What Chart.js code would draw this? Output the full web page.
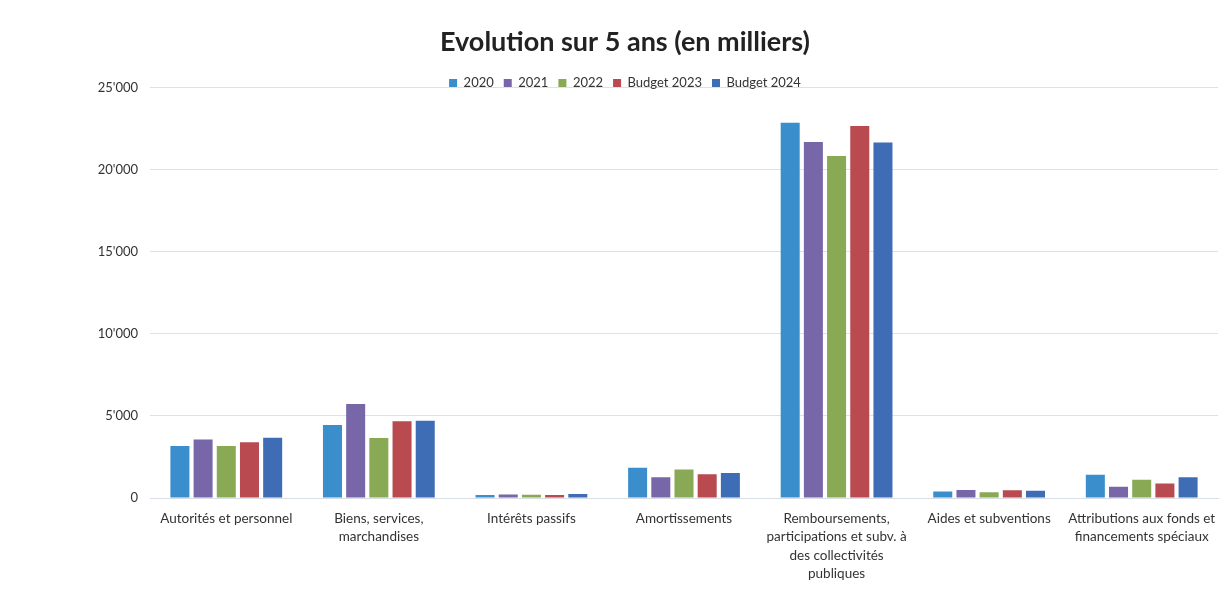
<!DOCTYPE html>
<html>
<head>
<meta charset="utf-8">
<script src="https://cdn.jsdelivr.net/npm/chart.js@4.4.1/dist/chart.umd.min.js"></script>
<style>
  html, body { margin: 0; padding: 0; background: #fff; }
  #wrap { width: 1224px; height: 604px; }
</style>
</head>
<body>
<div id="wrap"><canvas id="chart"></canvas></div>
<script>
// Catégories (axe X)
const categories = [
  'Autorités et personnel',
  ['Biens, services,', 'marchandises'],
  'Intérêts passifs',
  'Amortissements',
  ['Remboursements,', 'participations et subv. à', 'des collectivités', 'publiques'],
  'Aides et subventions',
  ['Attributions aux fonds et', 'financements spéciaux']
];

// Valeurs en milliers
const values2020 = [3160, 4440, 180, 1850, 22850, 400, 1420];
const values2021 = [3560, 5720, 220, 1270, 21670, 490, 690];
const values2022 = [3160, 3650, 200, 1730, 20820, 350, 1110];
const valuesBudget2023 = [3390, 4680, 190, 1450, 22650, 470, 890];
const valuesBudget2024 = [3670, 4700, 240, 1520, 21640, 450, 1260];

const seriesNames = ['2020', '2021', '2022', 'Budget 2023', 'Budget 2024'];
const yTicks = [0, 5000, 10000, 15000, 20000, 25000];

const colors = ['#3a8ecb', '#7767a9', '#89a955', '#b84a50', '#3e6db6'];
const allValues = [values2020, values2021, values2022, valuesBudget2023, valuesBudget2024];

function fmt(v) {
  return String(v).replace(/\B(?=(\d{3})+(?!\d))/g, "'");
}

// la légende empiète sur le haut du graphique, comme dans l'original
const legendShift = {
  id: 'legendShift',
  afterLayout(chart) {
    const dy = 12;
    chart.legend.top += dy;
    chart.legend.bottom += dy;
  }
};

const ctx = document.getElementById('chart').getContext('2d');
const chart = new Chart(ctx, {
  type: 'bar',
  data: {
    labels: categories,
    datasets: seriesNames.map((name, i) => ({
      label: name,
      data: allValues[i],
      backgroundColor: colors[i],
      borderWidth: 0,
      categoryPercentage: 0.76,
      barPercentage: 0.82
    }))
  },
  plugins: [legendShift],
  options: {
    responsive: true,
    maintainAspectRatio: false,
    animation: false,
    layout: { padding: { left: 32, right: 6, top: 14, bottom: 18 } },
    plugins: {
      title: {
        display: true,
        text: 'Evolution sur 5 ans (en milliers)',
        color: '#222',
        font: { family: 'Lato', size: 27, weight: 'bold' },
        padding: { top: 12, bottom: -4 }
      },
      legend: {
        display: true,
        position: 'top',
        labels: {
          color: '#333',
          font: { family: 'Lato', size: 13 },
          boxWidth: 8,
          boxHeight: 8,
          padding: 10
        }
      },
      tooltip: { enabled: false }
    },
    scales: {
      x: {
        grid: { display: false },
        border: { color: '#d8dde6' },
        ticks: {
          color: '#333',
          font: { family: 'Lato', size: 13.5, lineHeight: 1.37 },
          maxRotation: 0,
          autoSkip: false,
          padding: 3
        }
      },
      y: {
        min: 0,
        max: 25000,
        afterBuildTicks: function(axis) {
          axis.ticks = yTicks.map(v => ({ value: v }));
        },
        afterFit: function(axis) {
          axis.width = 118;
        },
        grid: { color: '#dde2ea', drawTicks: false },
        border: { display: false },
        ticks: {
          color: '#333',
          font: { family: 'Lato', size: 13 },
          padding: 12,
          callback: function(value) { return fmt(value); }
        }
      }
    }
  }
});
</script>
</body>
</html>
